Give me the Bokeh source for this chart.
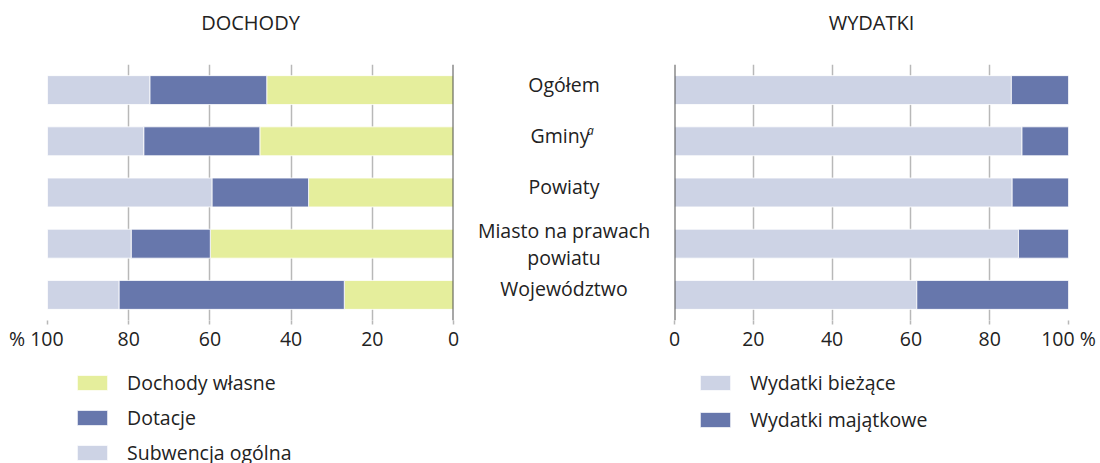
from bokeh.plotting import figure
from bokeh.models import (ColumnDataSource, FactorRange, Range1d, FixedTicker,
                          Legend, LegendItem, Span, Spacer)
from bokeh.layouts import row, column
from bokeh.core.properties import value
from bokeh.embed import file_html
from bokeh.resources import INLINE

# ---------------- data ----------------
titles = ["DOCHODY", "WYDATKI"]
categories = ["Ogółem", "Gminy", "Powiaty", "Miasto na prawach\npowiatu", "Województwo"]
dochody_wlasne = [46.0, 47.7, 35.7, 59.9, 26.9]
dotacje = [28.8, 28.6, 23.8, 19.5, 55.5]
subwencja_ogolna = [25.2, 23.7, 40.5, 20.6, 17.6]
wydatki_biezace = [85.5, 88.2, 85.7, 87.3, 61.5]
wydatki_majatkowe = [14.5, 11.8, 14.3, 12.7, 38.5]
ticks = [0, 20, 40, 60, 80, 100]
left_tick_labels = {100: "% 100\u2007\u2007"}
right_tick_labels = {100: "100 %"}
left_legend = ["Dochody własne", "Dotacje", "Subwencja ogólna"]
right_legend = ["Wydatki bieżące", "Wydatki majątkowe"]

# ---------------- style ----------------
FONT = "Open Sans"
FS = "19.5px"
TXT = "#222222"
C_WL = "#e5ee9c"
C_DOT = "#6777ac"
C_SUB = "#cdd3e5"
GRID = "#b8b8b8"
ZERO = "#505050"
H_HEAD = 50
H_TOP = 306
H_LEG = 107
TOP = 14
FRAME_H = 256
BAR_H = 0.565
W_L, W_M, W_R = 463, 201, 436
BL_L, BR_L = 47, 10
BL_R, BR_R = 10, 32

y_range = FactorRange(factors=list(reversed(categories)))
bottom = H_TOP - TOP - FRAME_H


def bare(p):
    p.outline_line_color = None
    p.grid.visible = False
    p.background_fill_color = "white"
    p.border_fill_color = "white"
    return p


def header(width, bl, br, text):
    h = figure(width=width, height=H_HEAD, x_range=Range1d(0, 1), y_range=Range1d(0, 1),
               output_backend="svg", toolbar_location=None,
               min_border_left=bl, min_border_right=br, min_border_top=0, min_border_bottom=0,
               x_axis_location=None, y_axis_location=None)
    bare(h)
    h.text(x=[0.5], y=[0.5], text=[text], y_offset=-3, text_align="center",
           text_baseline="middle", text_font=value(FONT), text_font_size="20px",
           text_color=TXT)
    return h


def style_common(p):
    p.outline_line_color = None
    p.background_fill_color = "white"
    p.border_fill_color = "white"
    p.ygrid.grid_line_color = None
    p.xgrid.ticker = FixedTicker(ticks=ticks)
    p.xgrid.grid_line_color = GRID
    p.xgrid.grid_line_width = 1.5
    xa = p.xaxis[0]
    xa.ticker = FixedTicker(ticks=ticks)
    xa.axis_line_color = None
    xa.major_tick_line_color = GRID
    xa.major_tick_line_width = 1.5
    xa.major_tick_in = 0
    xa.major_tick_out = 4
    xa.minor_tick_line_color = None
    xa.major_label_text_font = FONT
    xa.major_label_text_font_size = FS
    xa.major_label_text_color = TXT
    xa.major_label_standoff = 0


def legend_figure(width, left, labels, colors, spacing):
    lp = figure(width=width, height=H_LEG, x_range=Range1d(0, 1), y_range=Range1d(0, 1),
                output_backend="svg", toolbar_location=None,
                min_border_left=left, min_border_right=0, min_border_top=13,
                min_border_bottom=0, x_axis_location=None, y_axis_location=None)
    bare(lp)
    # legend proxies: one hidden bar each, placed outside the visible range
    items = []
    for lab, c in zip(labels, colors):
        r = lp.hbar(y=[-5], left=[0], right=[1], height=1, fill_color=c,
                    line_color="white", line_width=0.8)
        items.append(LegendItem(label=lab, renderers=[r]))
    leg = Legend(items=items, location="top_left")
    leg.border_line_color = None
    leg.background_fill_alpha = 0
    leg.glyph_width = 38
    leg.glyph_height = 19
    leg.label_height = 19
    leg.label_standoff = 16
    leg.spacing = spacing
    leg.padding = 0
    leg.margin = 0
    leg.label_text_font = FONT
    leg.label_text_font_size = FS
    leg.label_text_color = TXT
    lp.add_layout(leg)
    return lp


# ---------------- left: DOCHODY ----------------
pl = figure(width=W_L, height=H_TOP, x_range=Range1d(100, 0), y_range=y_range,
            output_backend="svg", toolbar_location=None,
            min_border_left=BL_L, min_border_right=BR_L, min_border_top=TOP,
            min_border_bottom=bottom, y_axis_location=None)
style_common(pl)
pl.xaxis[0].major_label_overrides = left_tick_labels
src_l = ColumnDataSource(dict(cat=categories, wl=dochody_wlasne, dot=dotacje, sub=subwencja_ogolna))
pl.hbar_stack(["wl", "dot", "sub"], y="cat", height=BAR_H, source=src_l,
              fill_color=[C_WL, C_DOT, C_SUB], line_color="white", line_width=0.8)
pl.add_layout(Span(location=0, dimension="height", line_color=ZERO, line_width=2))

# ---------------- middle: category labels ----------------
pm = figure(width=W_M, height=H_TOP, x_range=Range1d(0, 1), y_range=y_range,
            output_backend="svg", toolbar_location=None,
            min_border_left=0, min_border_right=0, min_border_top=TOP,
            min_border_bottom=bottom, x_axis_location=None, y_axis_location=None)
bare(pm)
src_m = ColumnDataSource(dict(cat=categories, x=[0.5] * len(categories),
                              dx=[-4 if c == "Gminy" else 0 for c in categories],
                              dy=[0 if "\n" in c else -6 for c in categories]))
pm.text(x="x", y="cat", text="cat", source=src_m, x_offset="dx", y_offset="dy",
        text_align="center", text_baseline="middle", text_font=value(FONT),
        text_font_size=FS, text_color=TXT, text_line_height=1.0)
pm.text(x=[0.5], y=["Gminy"], text=["a"], x_offset=23, y_offset=-11,
        text_align="left", text_baseline="middle", text_font=value(FONT),
        text_font_style="italic", text_font_size="12px", text_color=TXT)

# ---------------- right: WYDATKI ----------------
pr = figure(width=W_R, height=H_TOP, x_range=Range1d(0, 100), y_range=y_range,
            output_backend="svg", toolbar_location=None,
            min_border_left=BL_R, min_border_right=BR_R, min_border_top=TOP,
            min_border_bottom=bottom, y_axis_location=None)
style_common(pr)
pr.xaxis[0].major_label_overrides = right_tick_labels
src_r = ColumnDataSource(dict(cat=categories, b=wydatki_biezace, m=wydatki_majatkowe))
pr.hbar_stack(["b", "m"], y="cat", height=BAR_H, source=src_r,
              fill_color=[C_SUB, C_DOT], line_color="white", line_width=0.8)
pr.add_layout(Span(location=0, dimension="height", line_color=ZERO, line_width=2))

# ---------------- headers & legends ----------------
hl = header(W_L, BL_L, BR_L, titles[0])
hr = header(W_R, BL_R, BR_R, titles[1])
lgl = legend_figure(W_L + W_M, 73, left_legend, [C_WL, C_DOT, C_SUB], 8)
lgr = legend_figure(W_R, 32, right_legend, [C_SUB, C_DOT], 10)

layout = column(row(hl, Spacer(width=W_M, height=H_HEAD), hr),
                row(pl, pm, pr),
                row(lgl, lgr))
open("out.html", "w").write(file_html(layout, INLINE))
